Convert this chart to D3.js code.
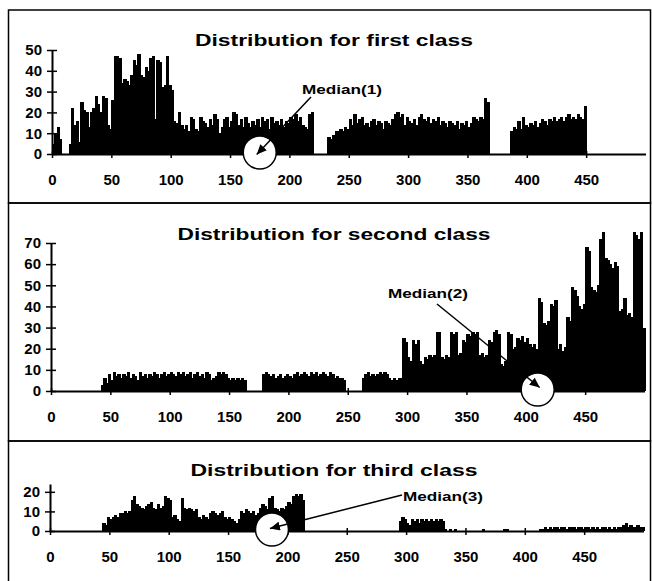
<!DOCTYPE html>
<html>
<head>
<meta charset="utf-8">
<script src="https://cdn.jsdelivr.net/npm/d3@7"></script>
<style>
  body { margin: 0; background: #fff; }
  text { font-family: "Liberation Sans", Arial, sans-serif; font-weight: bold; }
</style>
</head>
<body>
<div id="chart"></div>
<script>
// each value covers a bin of 2 units, starting at 0
var binWidth = 2;
var xTicks = [0, 50, 100, 150, 200, 250, 300, 350, 400, 450];

var titles = ["Distribution for first class", "Distribution for second class", "Distribution for third class"];
var medianLabels = ["Median(1)", "Median(2)", "Median(3)"];
var medians = [175, 410, 187];

var yTicks1 = [0, 10, 20, 30, 40, 50];
var yTicks2 = [0, 10, 20, 30, 40, 50, 60, 70];
var yTicks3 = [0, 10, 20];

var firstClass = [
  5,10,13,7,0,0,0,5,22,14,
  16,6,25,21,20,13,20,22,28,24,
  20,28,27,14,12,26,47,47,46,34,
  36,35,33,38,45,43,48,38,37,42,
  40,46,47,17,45,44,32,33,47,33,
  31,16,15,20,14,12,14,11,18,17,
  12,11,18,16,15,13,17,14,19,17,
  10,13,17,18,13,16,20,19,14,17,
  13,18,15,13,16,14,17,13,18,16,
  17,12,18,15,16,14,17,13,16,15,
  18,17,19,16,18,14,13,12,19,20,
  0,0,0,0,0,0,8,7,9,11,
  11,12,11,13,12,17,14,19,15,17,
  18,14,15,13,16,17,14,16,15,12,
  16,15,14,17,19,20,18,19,14,18,
  16,15,17,14,18,19,17,16,18,15,
  17,16,18,14,16,15,13,16,15,14,
  16,12,15,14,16,13,15,18,17,16,
  18,17,27,25,0,0,0,0,0,0,
  0,0,0,11,13,12,16,12,18,14,
  13,15,14,16,13,15,17,16,14,17,
  16,18,16,17,18,16,18,19,17,18,
  17,19,18,17,23,0,0,0,0,0,
  0,0,0,0,0,0,0,0,0,0,
  0,0,0,0,0,0,0,0,0,0
];

var secondClass = [
  0,0,0,0,0,0,0,0,0,0,
  0,0,0,0,0,0,0,0,0,0,
  0,3,6,4,8,5,9,7,8,6,
  8,7,9,6,8,7,5,9,7,8,
  6,8,7,9,8,6,8,9,7,8,
  9,8,7,9,8,9,7,8,9,6,
  8,9,7,8,6,9,8,5,6,7,
  9,8,9,8,6,5,6,5,6,5,
  6,5,0,0,0,0,0,0,0,8,
  9,8,7,8,6,7,8,6,7,8,
  7,6,8,9,7,8,9,8,7,9,
  8,9,7,8,9,8,7,9,8,6,
  7,6,6,5,0,0,0,0,0,0,
  0,6,8,9,7,8,7,8,9,8,
  9,8,6,5,6,5,6,6,25,23,
  16,14,24,22,24,14,13,16,15,17,
  16,17,28,28,16,15,17,16,28,27,
  28,17,18,24,23,27,26,28,27,28,
  17,18,16,17,24,23,28,29,27,13,
  12,14,28,27,20,21,25,24,26,23,
  25,22,21,22,20,44,42,32,31,33,
  41,40,43,20,22,19,21,35,33,49,
  48,45,40,39,41,68,66,49,48,47,
  50,72,75,63,62,60,58,61,59,38,
  39,44,36,37,35,75,74,72,75,30
];

var thirdClass = [
  0,0,0,0,0,0,0,0,0,0,
  0,0,0,0,0,0,0,0,0,0,
  0,0,4,3,7,6,7,8,7,9,
  9,10,9,10,16,18,14,13,12,11,
  13,14,15,12,11,14,12,13,18,17,
  16,7,8,6,5,17,12,11,12,11,
  10,11,7,6,8,7,6,9,10,9,
  8,9,10,7,6,7,6,5,4,6,
  10,9,11,10,9,10,8,9,12,14,
  13,11,17,18,12,11,10,12,11,13,
  15,14,18,19,18,19,16,0,0,0,
  0,0,0,0,0,0,0,0,0,0,
  0,0,0,0,0,0,0,0,0,0,
  0,0,0,0,0,0,0,0,0,0,
  0,0,0,0,0,0,0,5,7,6,
  4,3,6,5,6,4,6,5,6,5,
  6,5,6,5,6,5,1,0,1,0,
  1,0,0,0,0,0,0,0,0,0,
  0,0,1,0,0,0,0,0,0,0,
  0,1,1,0,0,0,0,0,0,0,
  0,0,0,0,0,0,1,1,2,1,
  2,1,2,2,1,2,2,1,2,2,
  2,1,2,2,1,2,2,1,2,1,
  2,1,2,2,1,2,1,2,1,2,
  2,3,4,2,3,2,2,3,2,2
];

// layout of the three stacked boxes
var panels = [
  {data: firstClass,  yTicks: yTicks1, yMax: 50, top: 10,  bottom: 203, x0: 52, y0: 154, yTopPx: 50,
   titleY: 46,  titleW: 278, label: {x: 302, y: 94,  w: 80, lx: 311, ly: 97},  tip: [-3, 2]},
  {data: secondClass, yTicks: yTicks2, yMax: 70, top: 203, bottom: 441, x0: 51, y0: 391, yTopPx: 243,
   titleY: 240, titleW: 313, label: {x: 388, y: 298, w: 80, lx: 437, ly: 304}, tip: [2, -2]},
  {data: thirdClass,  yTicks: yTicks3, yMax: 24, top: 441, bottom: 600, x0: 50, y0: 531, yTopPx: 484,
   titleY: 476, titleW: 287, label: {x: 403, y: 501, w: 80, lx: 402, ly: 495}, tip: [-2, -1]}
];

var svg = d3.select("#chart").append("svg")
    .attr("width", 652)
    .attr("height", 581)
    .style("background-color", "white");

svg.append("defs").append("marker")
    .attr("id", "arrow")
    .attr("markerUnits", "userSpaceOnUse")
    .attr("markerWidth", 11)
    .attr("markerHeight", 9)
    .attr("refX", 10)
    .attr("refY", 4.5)
    .attr("orient", "auto")
  .append("path")
    .attr("d", "M0,0 L10,4.5 L0,9 Z")
    .attr("fill", "#000");

panels.forEach(function(p, i) {
  var g = svg.append("g");

  // box
  g.append("rect")
      .attr("x", 8.5).attr("y", p.top)
      .attr("width", 642).attr("height", p.bottom - p.top)
      .attr("fill", "none")
      .attr("stroke", "#000")
      .attr("stroke-width", 1.5);

  var x = d3.scaleLinear().domain([0, 500]).range([p.x0, p.x0 + 500 * 1.187]);
  var y = d3.scaleLinear().domain([0, p.yMax]).range([p.y0, p.yTopPx]);

  // bars, slightly overlapping so the histogram reads as a solid mass
  g.selectAll(".bar")
      .data(p.data)
    .enter().append("rect")
      .attr("class", "bar")
      .attr("x", function(d, j) { return x(j * binWidth); })
      .attr("width", x(binWidth) - x(0) + 1)
      .attr("y", function(d) { return y(d); })
      .attr("height", function(d) { return y(0) - y(d); })
      .attr("shape-rendering", "crispEdges")
      .attr("fill", "#000");

  // x axis
  var xAxis = g.append("g")
      .attr("transform", "translate(0," + p.y0 + ")")
      .call(d3.axisBottom(x).tickValues(xTicks).tickSize(4).tickSizeOuter(0).tickPadding(16))
      .attr("font-family", null)
      .attr("font-size", 15);
  xAxis.selectAll(".tick line").attr("y1", -3).attr("stroke-width", 1.5);
  xAxis.select(".domain").attr("stroke-width", 2);
  xAxis.selectAll("text").attr("fill", "#000");

  // y axis
  var yAxis = g.append("g")
      .attr("transform", "translate(" + p.x0 + ",0)")
      .call(d3.axisLeft(y).tickValues(p.yTicks).tickSize(5).tickSizeOuter(0).tickPadding(5))
      .attr("font-family", null)
      .attr("font-size", 15);
  yAxis.selectAll(".tick line").attr("x1", 5).attr("stroke-width", 1.5);
  yAxis.select(".domain").attr("stroke-width", 2);
  yAxis.selectAll("text").attr("fill", "#000");

  // title
  g.append("text")
      .attr("x", 334)
      .attr("y", p.titleY)
      .attr("text-anchor", "middle")
      .attr("font-size", 16)
      .attr("textLength", p.titleW)
      .attr("lengthAdjust", "spacingAndGlyphs")
      .text(titles[i]);

  // median marker
  var cx = x(medians[i]), cy = y(0) - 1.5;
  g.append("circle")
      .attr("cx", cx).attr("cy", cy).attr("r", 16.5)
      .attr("fill", "#fff")
      .attr("stroke", "#000")
      .attr("stroke-width", 1.5);

  g.append("line")
      .attr("x1", p.label.lx).attr("y1", p.label.ly)
      .attr("x2", cx + p.tip[0]).attr("y2", cy + p.tip[1])
      .attr("stroke", "#000")
      .attr("stroke-width", 1.5)
      .attr("marker-end", "url(#arrow)");

  g.append("text")
      .attr("x", p.label.x)
      .attr("y", p.label.y)
      .attr("font-size", 12)
      .attr("textLength", p.label.w)
      .attr("lengthAdjust", "spacingAndGlyphs")
      .text(medianLabels[i]);
});
</script>
</body>
</html>
